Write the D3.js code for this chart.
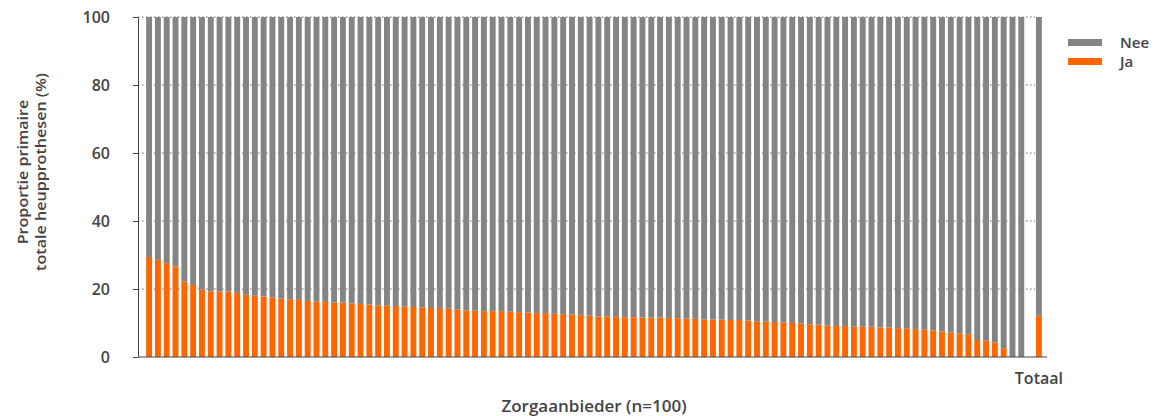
<!DOCTYPE html>
<html>
<head>
<meta charset="utf-8">
<script src="https://cdn.jsdelivr.net/npm/d3@7"></script>
<style>
  body { margin: 0; background: #fff; }
  text { font-family: "Open Sans", sans-serif; font-weight: 600; fill: #444; }
  .axis path, .axis line { stroke: #444; }
  .grid line { stroke: #666; stroke-dasharray: 1.5 2.5; }
</style>
</head>
<body>
<div id="chart"></div>
<script>
// share "Ja" per zorgaanbieder (%), sorted high to low
var jaValues = [
  29.4, 28.6, 27.6, 26.6, 22.2, 21.2, 19.8, 19.3, 19.3, 19.2,
  18.8, 18.3, 18.0, 17.8, 17.5, 17.2, 17.0, 16.8, 16.5, 16.3,
  16.2, 16.0, 16.0, 15.8, 15.6, 15.4, 15.2, 15.1, 15.0, 14.8,
  14.7, 14.6, 14.4, 14.4, 14.2, 13.9, 13.7, 13.6, 13.5, 13.5,
  13.5, 13.3, 13.2, 13.1, 12.9, 12.9, 12.7, 12.6, 12.5, 12.4,
  12.2, 11.9, 11.9, 11.8, 11.7, 11.7, 11.6, 11.6, 11.6, 11.5,
  11.4, 11.3, 11.2, 11.0, 11.0, 11.0, 10.9, 10.9, 10.7, 10.5,
  10.4, 10.3, 10.2, 10.0, 9.8, 9.6, 9.5, 9.3, 9.1, 9.1,
  8.9, 8.9, 8.9, 8.7, 8.7, 8.5, 8.3, 8.2, 8.0, 7.8,
  7.5, 7.2, 7.0, 6.7, 5.0, 4.8, 4.3, 2.6, 0, 0
];
var totaalJa = 12.1;
var providers = d3.range(1, jaValues.length + 1).map(String);
var categories = providers.concat(['', 'Totaal']);
var yTicks = [0, 20, 40, 60, 80, 100];
var keys = ['Ja', 'Nee'];
var colors = { Ja: '#ff6600', Nee: '#848484' };

var margin = { top: 17, left: 138, bottom: 59, right: 111 },
    width = 1158 - margin.left - margin.right,
    height = 416 - margin.top - margin.bottom;

var svg = d3.select('#chart').append('svg')
    .attr('width', width + margin.left + margin.right)
    .attr('height', height + margin.top + margin.bottom)
    .append('g')
    .attr('transform', 'translate(' + margin.left + ', ' + margin.top + ')');

// rows for the stack
var rows = providers.map((p, i) => ({ cat: p, Ja: jaValues[i], Nee: 100 - jaValues[i] }));
rows.push({ cat: 'Totaal', Ja: totaalJa, Nee: 100 - totaalJa });

var x = d3.scaleBand()
    .domain(categories)
    .range([5.5, width - 2.5])
    .paddingInner(0.33)
    .paddingOuter(0.3);

var y = d3.scaleLinear()
    .domain([0, 100])
    .range([height, 0]);

// dotted grid
svg.append('g')
    .attr('class', 'grid')
    .selectAll('line')
    .data(yTicks.slice(1))
    .enter()
    .append('line')
    .attr('x1', 0)
    .attr('x2', width - 12)
    .attr('y1', d => y(d))
    .attr('y2', d => y(d));

var series = d3.stack().keys(keys)(rows);

svg.selectAll('.serie')
    .data(series)
    .enter()
    .append('g')
    .attr('class', 'serie')
    .attr('fill', d => colors[d.key])
    .selectAll('rect')
    .data(d => d)
    .enter()
    .append('rect')
    .attr('x', d => x(d.data.cat))
    .attr('y', d => y(d[1]))
    .attr('width', x.bandwidth())
    .attr('height', d => y(d[0]) - y(d[1]));

// axes
var yAxis = d3.axisLeft(y)
    .tickValues(yTicks)
    .tickSize(5)
    .tickSizeOuter(0)
    .tickPadding(23);

svg.append('g')
    .attr('class', 'axis')
    .call(yAxis)
    .call(g => g.selectAll('text').style('font-size', '16px'));

svg.append('line')
    .attr('x1', 0)
    .attr('x2', width)
    .attr('y1', height)
    .attr('y2', height)
    .attr('stroke', '#444');

var xAxis = d3.axisBottom(x)
    .tickValues(['Totaal'])
    .tickSize(0)
    .tickPadding(16);

svg.append('g')
    .attr('class', 'axis')
    .attr('transform', 'translate(0,' + height + ')')
    .call(xAxis)
    .call(g => g.select('.domain').remove())
    .call(g => g.selectAll('text').style('font-size', '16px'));

// labels
svg.append('text')
    .attr('x', 456)
    .attr('y', height + 55)
    .attr('text-anchor', 'middle')
    .style('font-size', '17px')
    .text('Zorgaanbieder (n=100)');

var ylabel = svg.append('text')
    .attr('transform', 'translate(-109,' + (height / 2 - 15) + ') rotate(-90) scale(1.15,1)')
    .attr('text-anchor', 'middle')
    .style('font-size', '14px');
ylabel.append('tspan').attr('x', 0).attr('y', -1).text('Proportie primaire');
ylabel.append('tspan').attr('x', 0).attr('y', 17).text('totale heupprothesen (%)');

// legend
var legend = svg.append('g')
    .attr('transform', 'translate(' + (width + 21) + ', 22)');

legend.selectAll('rect')
    .data(['Nee', 'Ja'])
    .enter()
    .append('rect')
    .attr('x', 0)
    .attr('y', (d, i) => i * 19)
    .attr('width', 34)
    .attr('height', 7)
    .attr('fill', d => colors[d]);

legend.selectAll('text')
    .data(['Nee', 'Ja'])
    .enter()
    .append('text')
    .attr('x', 52)
    .attr('y', (d, i) => i * 19 + 9)
    .style('font-size', '15px')
    .text(d => d);
</script>
</body>
</html>
